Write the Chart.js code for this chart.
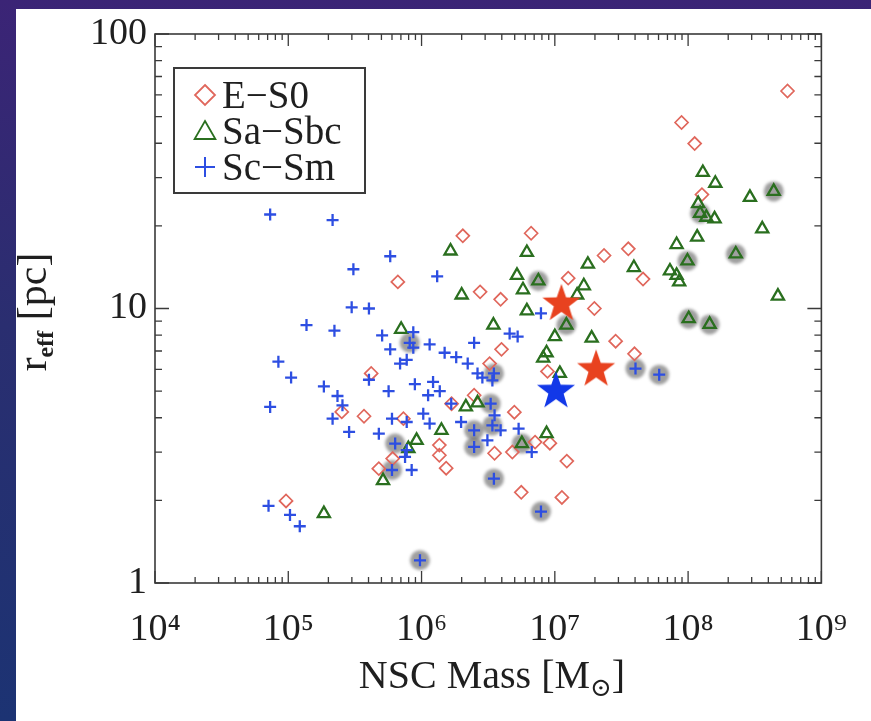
<!DOCTYPE html>
<html>
<head>
<meta charset="utf-8">
<title>NSC mass vs effective radius</title>
<script src="https://cdn.jsdelivr.net/npm/chart.js"></script>
<style>
  html, body { margin: 0; padding: 0; }
  body { width: 871px; height: 721px; overflow: hidden; position: relative;
         background: linear-gradient(180deg, #3b2476 0%, #2a2e70 45%, #1c3373 100%); }
  #panel { position: absolute; left: 16px; top: 9px; right: 0; bottom: 0; background: #fff; }
  #chart { position: absolute; left: 0; top: 0; }
</style>
</head>
<body>
<div id="panel"></div>
<canvas id="chart" width="871" height="721"></canvas>

<script>
  // axis ticks
  const massTicks = [1e4, 1e5, 1e6, 1e7, 1e8, 1e9];
  const massTickLabels = ['10⁴', '10⁵', '10⁶', '10⁷', '10⁸', '10⁹'];
  const reffTicks = [1, 10, 100];
  const reffTickLabels = ['1', '10', '100'];

  // E-S0
  const es0Mass = [5.57e8, 8.93e7, 1.12e8, 1.27e8, 2.04e6, 6.64e6, 2.34e7, 3.56e7, 4.59e7, 1.26e7,
                   6.64e5, 2.75e6, 3.92e6, 1.98e7, 2.86e7, 3.96e7, 3.98e6, 3.24e6, 8.81e6, 4.19e5,
                   3.70e5, 2.52e5, 7.31e5, 2.48e6, 4.97e6, 4.78e5, 6.07e5, 1.36e6, 1.36e6, 1.53e6,
                   3.53e6, 4.80e6, 7.11e6, 9.18e6, 1.23e7, 5.60e6, 1.13e7, 9.62e4, 1.68e6];
  const es0Reff = [62, 47.6, 39.9, 26, 18.4, 18.8, 15.6, 16.5, 12.8, 12.9,
                   12.5, 11.5, 10.8, 10, 7.6, 6.84, 7.1, 6.3, 5.9, 5.8,
                   4.05, 4.2, 3.97, 4.83, 4.19, 2.61, 2.84, 3.18, 2.92, 2.62,
                   2.97, 3.0, 3.26, 3.23, 2.78, 2.14, 2.05, 1.99, 4.5];

  // Sa-Sbc
  const sabMass = [1.85e5, 5.14e5, 7.96e5, 9.18e5, 1.41e6, 2.15e6, 2.63e6, 5.66e6, 8.67e6, 7.03e5,
                   1.65e6, 6.17e6, 2.0e6, 5.2e6, 7.52e6, 5.77e6, 6.17e6, 3.46e6, 1.77e7, 1.65e7,
                   1.47e7, 1.22e7, 1.0e7, 1.89e7, 8.67e6, 8.18e6, 1.09e7, 3.92e7, 1.29e8, 1.60e8,
                   4.39e8, 2.91e8, 1.19e8, 1.23e8, 1.37e8, 1.58e8, 3.60e8, 1.17e8, 8.20e7, 2.28e8,
                   9.89e7, 7.31e7, 8.20e7, 8.57e7, 4.72e8, 1.01e8, 1.45e8];
  const sabReff = [1.79, 2.36, 3.09, 3.31, 3.6, 4.38, 4.53, 3.22, 3.5, 8.4,
                   16.2, 16.0, 11.2, 13.2, 12.6, 11.7, 9.8, 8.7, 14.5, 12.1,
                   11.2, 8.7, 7.9, 7.8, 6.9, 6.6, 5.8, 14.1, 31.3, 28.6,
                   26.7, 25.4, 24.1, 22.2, 21.5, 21.2, 19.5, 18.2, 17.1, 15.8,
                   14.9, 13.7, 13.2, 12.5, 11.1, 9.18, 8.75];

  // Sc-Sm
  const scmMass = [7.31e4, 2.15e5, 5.82e5, 3.08e5, 2.99e5, 4.03e5, 1.37e5, 2.22e5, 5.06e5, 8.67e5,
                   8.15e5, 8.67e5, 5.82e5, 7.74e5, 6.90e5, 8.43e4, 1.05e5, 4.03e5, 1.85e5, 5.66e5,
                   2.34e5, 8.91e5, 7.31e4, 2.55e5, 2.15e5, 2.86e5, 4.78e5, 6.0e5, 7.74e5, 6.34e5,
                   7.52e5, 6.0e5, 8.43e5, 7.11e4, 1.03e5, 1.22e5, 9.73e5, 1.31e6, 7.87e6, 4.58e6,
                   5.26e6, 2.48e6, 1.15e6, 1.49e6, 1.82e6, 2.22e6, 2.63e6, 2.86e6, 3.49e6, 3.40e6,
                   1.22e6, 1.37e6, 1.12e6, 1.67e6, 3.30e6, 3.53e6, 3.40e6, 3.92e6, 3.12e6, 2.48e6,
                   2.48e6, 1.03e6, 1.15e6, 1.98e6, 5.35e6, 6.71e6, 3.49e6, 7.87e6, 4.03e7, 6.07e7,
                   7.74e5];
  const scmReff = [22, 21, 15.5, 13.9, 10.1, 10.0, 8.7, 8.3, 7.98, 8.2,
                   7.5, 7.2, 7.1, 6.5, 6.3, 6.4, 5.6, 5.5, 5.2, 5.0,
                   4.8, 5.3, 4.38, 4.44, 3.97, 3.55, 3.5, 3.97, 3.86, 3.22,
                   2.88, 2.58, 2.58, 1.91, 1.77, 1.61, 1.21, 13.1, 9.6, 8.1,
                   7.9, 7.5, 7.4, 6.9, 6.65, 6.3, 5.8, 5.6, 5.8, 5.47,
                   5.4, 5.0, 4.83, 4.5, 4.5, 4.08, 3.75, 3.6, 3.31, 3.6,
                   3.13, 4.14, 3.81, 3.86, 3.65, 3.0, 2.4, 1.82, 6.04, 5.74,
                   3.05];

  // grey discs behind the flagged objects
  const haloMass = [7.52e6, 1.22e7, 4.39e8, 1.23e8, 2.28e8, 9.89e7, 1.01e8, 1.45e8, 5.66e6,
                    3.30e6, 3.40e6, 2.48e6, 2.48e6, 3.49e6, 7.87e6, 9.73e5, 4.03e7, 6.07e7,
                    6.34e5, 6.0e5, 3.49e6, 8.15e5];
  const haloReff = [12.6, 8.7, 26.7, 22.2, 15.8, 14.9, 9.18, 8.75, 3.22,
                    4.5, 3.75, 3.6, 3.13, 2.4, 1.82, 1.21, 6.04, 5.74,
                    3.22, 2.58, 5.8, 7.5];

  // highlighted clusters (stars)
  const starMass = [1.12e7, 2.04e7, 1.02e7];
  const starReff = [10.4, 6.0, 5.0];
  const starColors = ['#e8421f', '#e8421f', '#1238e8'];

  const serif = "'Liberation Serif', 'DejaVu Serif', serif";
  const ink = '#1f1f1f';

  const es0Color = '#e0675c';
  const sabColor = '#2a6f1f';
  const scmColor = '#2d4ee2';

  function zip(xs, ys) {
    return xs.map((x, i) => ({ x: x, y: ys[i] }));
  }

  function makeStar(color, R) {
    const c = document.createElement('canvas');
    const s = Math.ceil(2 * R + 4);
    c.width = s; c.height = s;
    const g = c.getContext('2d');
    g.translate(s / 2, s / 2);
    g.beginPath();
    for (let i = 0; i < 10; i++) {
      const r = i % 2 === 0 ? R : R * 0.4;
      const a = -Math.PI / 2 + i * Math.PI / 5;
      g.lineTo(r * Math.cos(a), r * Math.sin(a));
    }
    g.closePath();
    g.fillStyle = color;
    g.fill();
    return c;
  }
  const starImgs = starColors.map(c => makeStar(c, 20));

  // frame with inward major/minor ticks on all four sides
  const framePlugin = {
    id: 'frame',
    afterDatasetsDraw(chart) {
      const { ctx, chartArea: a, scales: { x, y } } = chart;
      ctx.save();
      ctx.strokeStyle = '#3a3a3a';
      ctx.lineWidth = 1.6;
      ctx.strokeRect(a.left, a.top, a.right - a.left, a.bottom - a.top);
      ctx.lineWidth = 1.3;
      ctx.beginPath();
      for (let d = 4; d < 9; d++) {
        for (let m = 1; m <= 10; m++) {
          const px = x.getPixelForValue(m * Math.pow(10, d));
          const len = (m === 1 || m === 10) ? 12 : 6;
          ctx.moveTo(px, a.bottom); ctx.lineTo(px, a.bottom - len);
          ctx.moveTo(px, a.top); ctx.lineTo(px, a.top + len);
        }
      }
      for (let d = 0; d < 2; d++) {
        for (let m = 1; m <= 10; m++) {
          const py = y.getPixelForValue(m * Math.pow(10, d));
          const len = (m === 1 || m === 10) ? 14 : 7;
          ctx.moveTo(a.left, py); ctx.lineTo(a.left + len, py);
          ctx.moveTo(a.right, py); ctx.lineTo(a.right - len, py);
        }
      }
      ctx.stroke();
      ctx.restore();
    }
  };

  // soften the grey discs
  const haloBlur = {
    id: 'haloBlur',
    beforeDatasetDraw(chart, args) {
      if (args.index === 0) { chart.ctx.save(); chart.ctx.filter = 'blur(1.5px)'; }
    },
    afterDatasetDraw(chart, args) {
      if (args.index === 0) chart.ctx.restore();
    }
  };

  // axis titles with sub-scripts
  const titlesPlugin = {
    id: 'titles',
    afterDraw(chart) {
      const ctx = chart.ctx;
      ctx.save();
      ctx.fillStyle = ink;
      ctx.textBaseline = 'alphabetic';

      // x title: NSC Mass [M_sun]
      const big = '40px ' + serif, small = '26px ' + serif;
      ctx.font = big;
      const p1 = 'NSC Mass [M', p3 = ']';
      const w1 = ctx.measureText(p1).width, w3 = ctx.measureText(p3).width;
      ctx.font = small;
      const w2 = ctx.measureText('⊙').width;
      let x0 = 492 - (w1 + w2 + w3) / 2;
      const base = 688;
      ctx.font = big; ctx.fillText(p1, x0, base);
      ctx.font = small; ctx.fillText('⊙', x0 + w1, base + 8);
      ctx.font = big; ctx.fillText(p3, x0 + w1 + w2, base);

      // y title: r_eff [pc]
      ctx.translate(46, 312);
      ctx.rotate(-Math.PI / 2);
      const yb = '42px ' + serif, ys = 'bold 24px ' + serif;
      ctx.font = yb;
      const wr = ctx.measureText('r').width, wp = ctx.measureText(' [pc]').width;
      ctx.font = ys;
      const we = ctx.measureText('eff').width;
      let t = -(wr + we + wp) / 2;
      ctx.font = yb; ctx.fillText('r', t, 0);
      ctx.font = ys; ctx.fillText('eff', t + wr, 7);
      ctx.font = yb; ctx.fillText(' [pc]', t + wr + we, 0);
      ctx.restore();
    }
  };

  // boxed legend in the upper left corner
  const legendPlugin = {
    id: 'boxLegend',
    afterDraw(chart) {
      const ctx = chart.ctx;
      const rows = [
        { label: 'E−S0', color: es0Color, shape: 'diamond' },
        { label: 'Sa−Sbc', color: sabColor, shape: 'triangle' },
        { label: 'Sc−Sm', color: scmColor, shape: 'plus' }
      ];
      ctx.save();
      ctx.fillStyle = '#fff';
      ctx.fillRect(174, 68, 191, 125);
      ctx.strokeStyle = '#3a3a3a';
      ctx.lineWidth = 2;
      ctx.strokeRect(174, 68, 191, 125);
      rows.forEach((r, i) => {
        const cy = 95 + i * 36, cx = 205;
        ctx.strokeStyle = r.color;
        ctx.beginPath();
        if (r.shape === 'diamond') {
          const s = 10;
          ctx.lineWidth = 1.8;
          ctx.moveTo(cx, cy - s); ctx.lineTo(cx + s, cy); ctx.lineTo(cx, cy + s); ctx.lineTo(cx - s, cy);
          ctx.closePath();
        } else if (r.shape === 'triangle') {
          const s = 12;
          ctx.lineWidth = 1.8;
          for (let k = 0; k < 3; k++) {
            const a = -Math.PI / 2 + k * 2 * Math.PI / 3;
            ctx.lineTo(cx + s * Math.cos(a), cy + 2 + s * Math.sin(a));
          }
          ctx.closePath();
        } else {
          const s = 10;
          ctx.lineWidth = 2;
          ctx.moveTo(cx - s, cy); ctx.lineTo(cx + s, cy);
          ctx.moveTo(cx, cy - s); ctx.lineTo(cx, cy + s);
        }
        ctx.stroke();
        ctx.fillStyle = ink;
        ctx.font = '39px ' + serif;
        ctx.textBaseline = 'alphabetic';
        ctx.fillText(r.label, 222, cy + 13);
      });
      ctx.restore();
    }
  };

  const ctx = document.getElementById('chart').getContext('2d');
  new Chart(ctx, {
    type: 'scatter',
    data: {
      datasets: [
        { label: 'halo', data: zip(haloMass, haloReff), pointStyle: 'circle', pointRadius: 10,
          backgroundColor: 'rgba(80,80,80,0.55)', borderWidth: 0, order: 5 },
        { label: 'E-S0', data: zip(es0Mass, es0Reff), pointStyle: 'rectRot', pointRadius: 6.5,
          borderColor: es0Color, backgroundColor: 'rgba(0,0,0,0)', borderWidth: 1.7, order: 3 },
        { label: 'Sa-Sbc', data: zip(sabMass, sabReff), pointStyle: 'triangle', pointRadius: 7,
          borderColor: sabColor, backgroundColor: 'rgba(0,0,0,0)', borderWidth: 2.3, order: 2 },
        { label: 'Sc-Sm', data: zip(scmMass, scmReff), pointStyle: 'cross', pointRadius: 6,
          borderColor: scmColor, borderWidth: 2.3, order: 1 },
        { label: 'stars', data: zip(starMass, starReff), pointStyle: starImgs, pointRadius: 20,
          order: 0 }
      ]
    },
    options: {
      responsive: false,
      animation: false,
      layout: { padding: { top: 34, right: 41, left: 0, bottom: 0 } },
      plugins: { legend: { display: false }, tooltip: { enabled: false } },
      scales: {
        x: {
          type: 'logarithmic',
          min: 1e4, max: 1e9,
          grid: { display: false, drawTicks: false },
          border: { display: false },
          afterBuildTicks: s => { s.ticks = massTicks.map(v => ({ value: v })); },
          afterFit: s => { s.height = 138; },
          ticks: {
            autoSkip: false, maxRotation: 0, padding: 24, color: ink,
            font: { family: serif, size: 38 },
            callback: v => massTickLabels[massTicks.indexOf(v)]
          }
        },
        y: {
          type: 'logarithmic',
          min: 1, max: 100,
          grid: { display: false, drawTicks: false },
          border: { display: false },
          afterBuildTicks: s => { s.ticks = reffTicks.map(v => ({ value: v })); },
          afterFit: s => { s.width = 155; },
          ticks: {
            autoSkip: false, padding: 8, color: ink,
            font: { family: serif, size: 38 },
            callback: v => reffTickLabels[reffTicks.indexOf(v)]
          }
        }
      }
    },
    plugins: [haloBlur, framePlugin, titlesPlugin, legendPlugin]
  });
</script>
</body>
</html>
